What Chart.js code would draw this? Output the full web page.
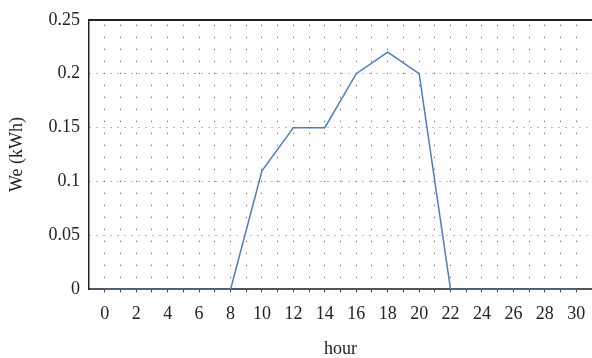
<!DOCTYPE html>
<html>
<head>
<meta charset="utf-8">
<script src="https://cdn.jsdelivr.net/npm/chart.js@4"></script>
<style>
  html, body { margin: 0; padding: 0; background: #fff; }
  #wrap { width: 592px; height: 358px; position: relative; }
</style>
</head>
<body>
<div id="wrap"><canvas id="chart"></canvas></div>
<script>
const hours = [0, 2, 4, 6, 8, 10, 12, 14, 16, 18, 20, 22, 24, 26, 28, 30];
const energy = [0, 0, 0, 0, 0, 0.11, 0.15, 0.15, 0.2, 0.22, 0.2, 0, 0, 0, 0, 0];
const yTicks = [0, 0.05, 0.1, 0.15, 0.2, 0.25];

const fontFamily = '"Liberation Serif", "DejaVu Serif", serif';
const textColor = '#222';

const points = hours.map((h, i) => ({ x: h, y: energy[i] }));

// no side padding on the horizontal axes, so the frame runs to the right edge
const noSidePad = (scale) => { scale.paddingLeft = 0; scale.paddingRight = 0; };

new Chart(document.getElementById('chart').getContext('2d'), {
    type: 'line',
    data: {
        datasets: [{
            data: points,
            borderColor: '#4a7cc4',
            borderWidth: 1.5,
            pointRadius: 0,
            tension: 0,
            fill: false
        }]
    },
    options: {
        responsive: true, maintainAspectRatio: false,
        animation: false,
        layout: { padding: { left: 6, right: 0, top: 11, bottom: 0 } },
        plugins: { legend: { display: false }, tooltip: { enabled: false } },
        scales: {
            x: {
                type: 'linear',
                min: -1, max: 31,
                afterFit: noSidePad,
                ticks: {
                    stepSize: 1,
                    autoSkip: false,
                    maxRotation: 0,
                    color: textColor,
                    font: { family: fontFamily, size: 18 },
                    padding: 11,
                    callback: (v) => (v >= 0 && v <= 30 && v % 2 === 0) ? String(v) : ''
                },
                grid: {
                    color: (ctx) => (ctx.tick && (ctx.tick.value < 0 || ctx.tick.value > 30)) ? 'rgba(0,0,0,0)' : '#444',
                    lineWidth: 1,
                    tickLength: 3,
                    drawTicks: true
                },
                border: { display: true, color: '#555', width: 2, dash: [1, 11], dashOffset: 7 },
                title: {
                    display: true, text: 'hour', color: textColor,
                    font: { family: fontFamily, size: 18, lineHeight: 1 },
                    padding: { top: 4, bottom: 0 }
                }
            },
            x2: {
                type: 'linear', position: 'top',
                min: -1, max: 31,
                afterFit: noSidePad,
                grid: { display: false },
                ticks: { display: false },
                border: { display: true, color: '#222', width: 2 }
            },
            y: {
                min: 0, max: 0.25,
                afterBuildTicks: (scale) => { scale.ticks = yTicks.map(v => ({ value: v })); },
                ticks: {
                    color: textColor,
                    font: { family: fontFamily, size: 18 },
                    padding: 9,
                    callback: (v) => String(parseFloat(Number(v).toFixed(2)))
                },
                grid: {
                    color: (ctx) => (ctx.tick && ctx.tick.value >= 0.25) ? 'rgba(0,0,0,0)' : '#777',
                    lineWidth: 1,
                    drawTicks: false
                },
                border: { display: true, color: '#222', width: 1.5, dash: [1, 6] },
                title: {
                    display: true, text: 'We (kWh)', color: textColor,
                    font: { family: fontFamily, size: 18 },
                    padding: { top: 0, bottom: 12 }
                }
            }
        }
    }
});
</script>
</body>
</html>
